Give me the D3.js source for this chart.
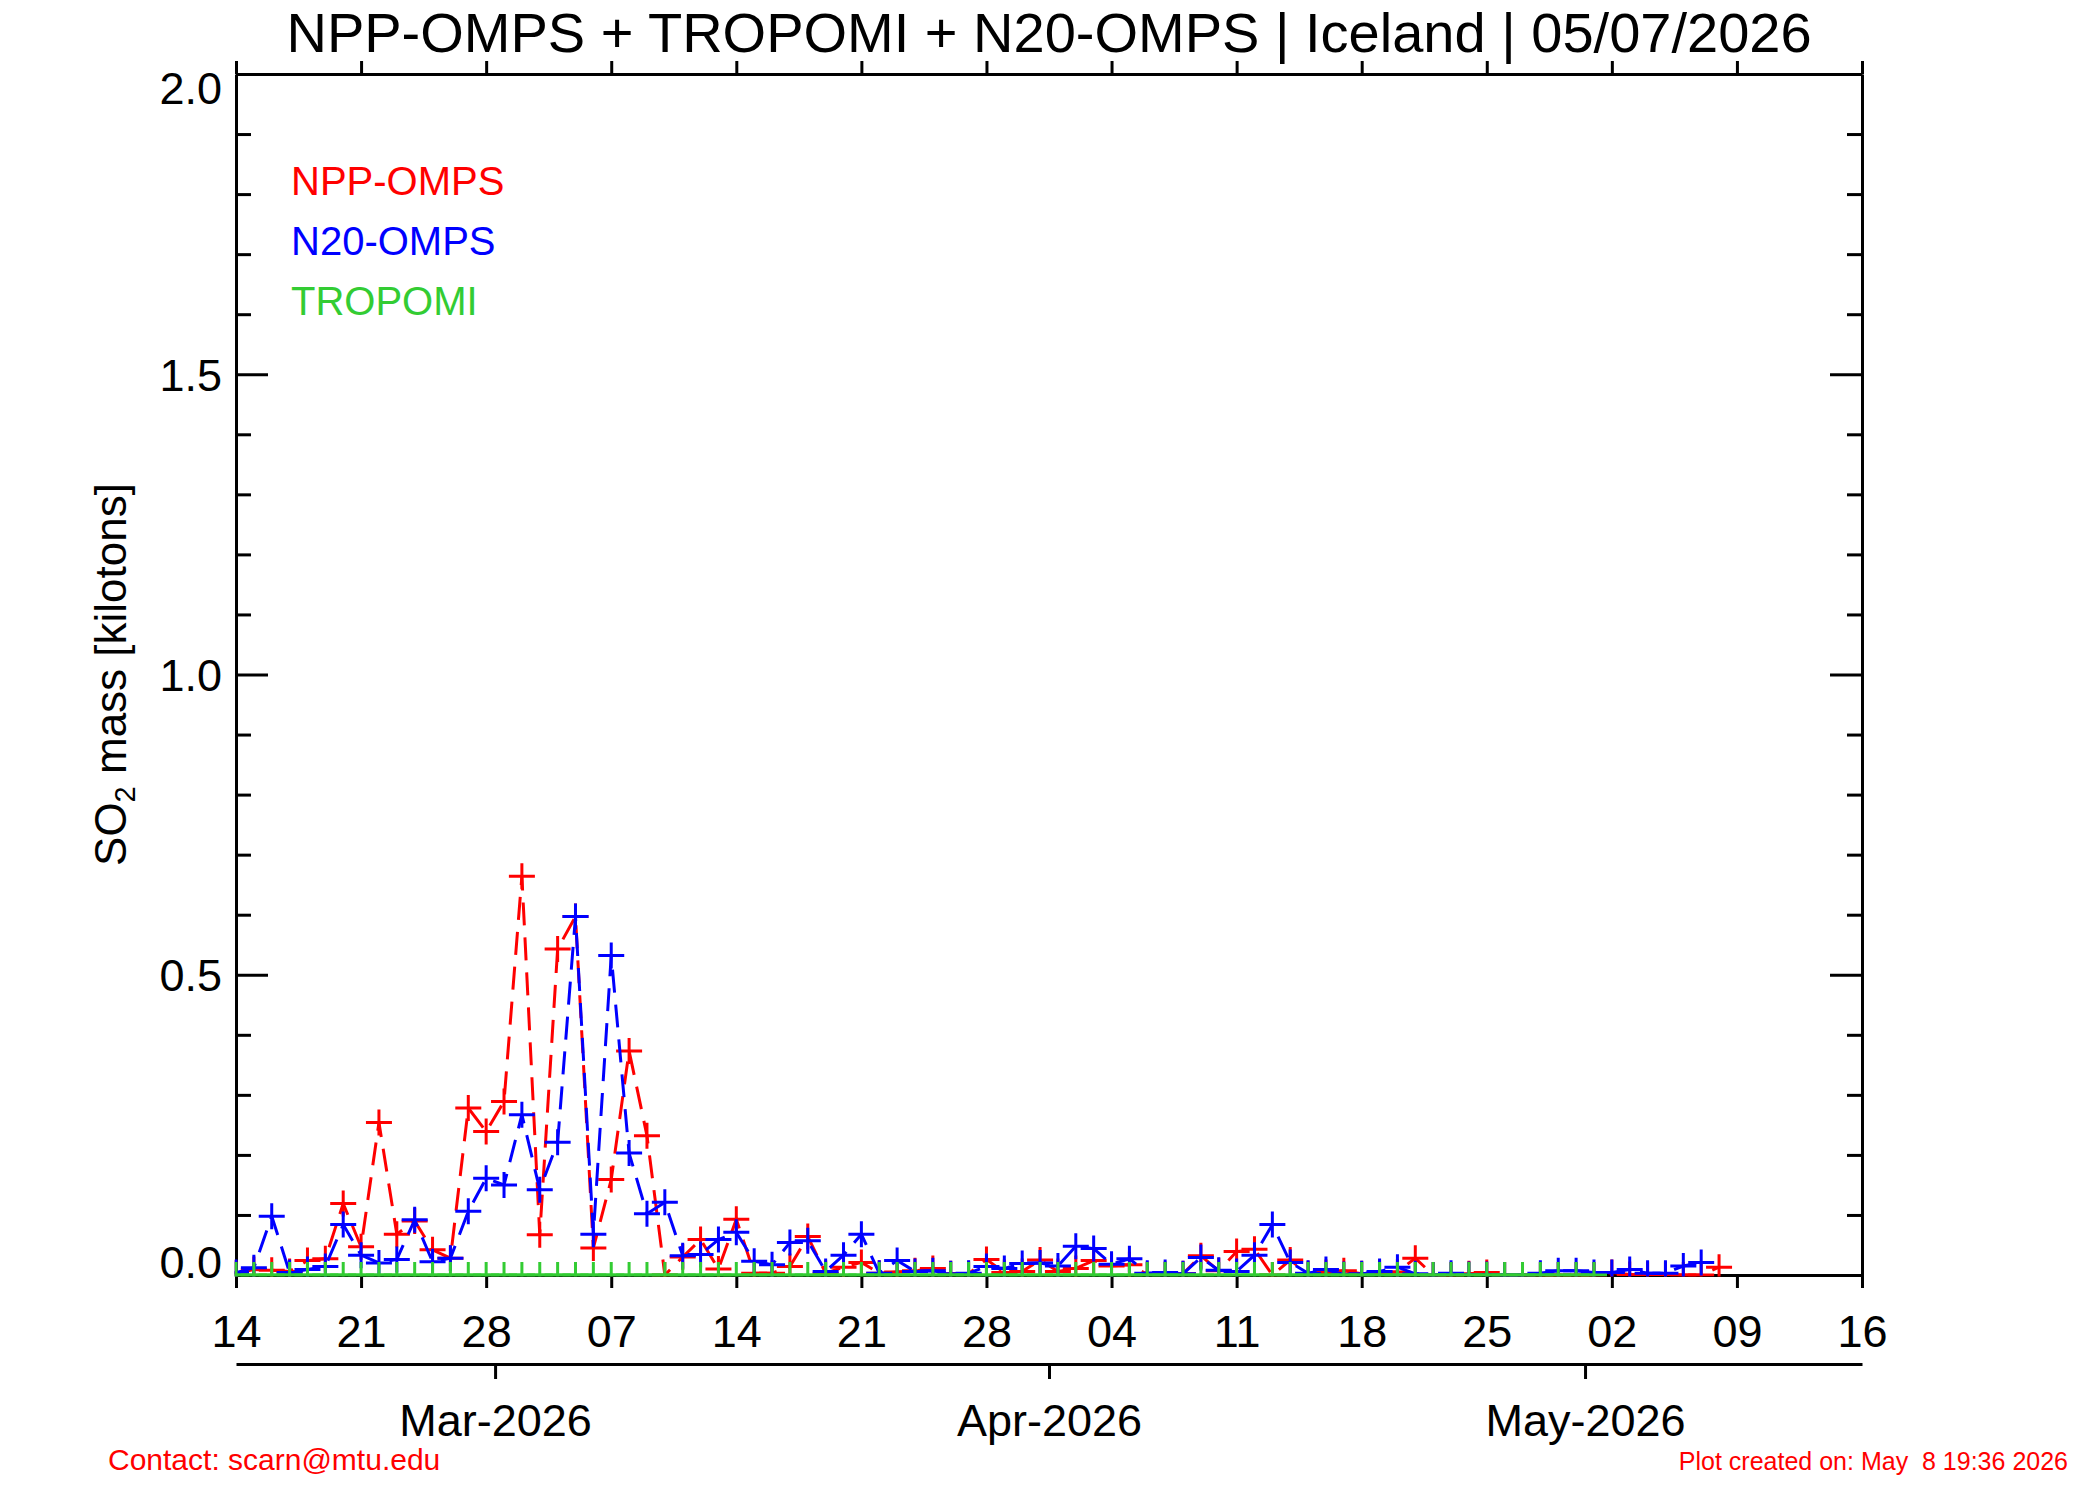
<!DOCTYPE html>
<html>
<head>
<meta charset="utf-8">
<script src="https://cdn.jsdelivr.net/npm/d3@7"></script>
<style>
  body { margin: 0; background: #fff; }
  svg { display: block; font-family: "Liberation Sans", Arial, Helvetica, sans-serif; }
  .axis path, .axis line { stroke: #000; stroke-width: 3; }
  .axis text { fill: #000; font-size: 45px; font-family: "Liberation Sans", Arial, sans-serif; }
</style>
</head>
<body>
<div id="chart"></div>
<script>
// --- data: one value per day, starting at startDay ---
const startDay = "2026-02-14";
const endDay = "2026-05-16";

const nppOmps = [
  0.003, 0.009, 0.008, 0.006, 0.024, 0.027, 0.119, 0.047, 0.254, 0.068,
  0.090, 0.042, 0.028, 0.278, 0.239, 0.289, 0.664, 0.067, 0.543, 0.597,
  0.045, 0.159, 0.373, 0.232, 0.000, 0.030, 0.059, 0.010, 0.093, 0.003,
  0.003, 0.014, 0.064, 0.003, 0.013, 0.021, 0.003, 0.005, 0.007, 0.011,
  0.002, 0.002, 0.026, 0.004, 0.006, 0.025, 0.006, 0.011, 0.024, 0.015,
  0.017, 0.001, 0.001, 0.002, 0.032, 0.007, 0.039, 0.043, 0.000, 0.025,
  0.002, 0.004, 0.007, 0.002, 0.004, 0.005, 0.028, 0.000, 0.000, 0.002,
  0.004, 0.000, 0.000, 0.000, 0.000, 0.000, 0.000, 0.004, 0.001, 0.001,
  0.001, 0.000, 0.000, 0.013
];

const n20Omps = [
  0.004, 0.012, 0.098, 0.004, 0.009, 0.014, 0.084, 0.033, 0.020, 0.026,
  0.092, 0.022, 0.028, 0.106, 0.161, 0.150, 0.267, 0.142, 0.221, 0.597,
  0.068, 0.532, 0.203, 0.102, 0.121, 0.032, 0.034, 0.059, 0.071, 0.023,
  0.017, 0.054, 0.057, 0.006, 0.033, 0.068, 0.003, 0.024, 0.006, 0.007,
  0.002, 0.003, 0.014, 0.011, 0.019, 0.020, 0.015, 0.048, 0.044, 0.018,
  0.027, 0.003, 0.004, 0.002, 0.029, 0.008, 0.006, 0.033, 0.084, 0.021,
  0.003, 0.009, 0.001, 0.002, 0.006, 0.013, 0.002, 0.000, 0.003, 0.001,
  0.001, 0.000, 0.000, 0.003, 0.007, 0.007, 0.004, 0.004, 0.009, 0.003,
  0.003, 0.015, 0.021
];

const tropomi = [
  0, 0, 0, 0, 0, 0, 0, 0, 0, 0,
  0, 0, 0, 0, 0, 0, 0, 0, 0, 0,
  0, 0, 0, 0, 0, 0, 0, 0, 0, 0,
  0, 0, 0, 0, 0, 0, 0, 0, 0, 0,
  0, 0, 0, 0, 0, 0, 0, 0, 0, 0,
  0, 0, 0, 0, 0, 0, 0, 0, 0, 0,
  0, 0, 0, 0, 0, 0, 0, 0, 0, 0,
  0, 0, 0, 0, 0, 0, 0
];

const seriesNames = ["NPP-OMPS", "N20-OMPS", "TROPOMI"];
const seriesColors = ["#ff0000", "#0000ff", "#33cc33"];
const yMajorTicks = [0.0, 0.5, 1.0, 1.5, 2.0];
const yMinorTicks = [0.1, 0.2, 0.3, 0.4, 0.6, 0.7, 0.8, 0.9, 1.1, 1.2, 1.3, 1.4, 1.6, 1.7, 1.8, 1.9];

const titleText = "NPP-OMPS + TROPOMI + N20-OMPS | Iceland | 05/07/2026";
const contactText = "Contact: scarn@mtu.edu";
const createdText = "Plot created on: May  8 19:36 2026";

// --- layout ---
const width = 2100;
const height = 1500;
const plot = { left: 236, right: 1862, top: 74, bottom: 1275 };

const svg = d3.select("#chart")
    .append("svg")
    .attr("width", width)
    .attr("height", height);

svg.append("rect").attr("width", width).attr("height", height).attr("fill", "#fff");

const parseDay = d3.utcParse("%Y-%m-%d");
const t0 = parseDay(startDay);
const t1 = parseDay(endDay);

const x = d3.scaleUtc().domain([t0, t1]).range([plot.left, plot.right]);
// month axis is offset by half a day
const xMonth = d3.scaleUtc()
    .domain([d3.utcHour.offset(t0, 12), d3.utcHour.offset(t1, 12)])
    .range([plot.left, plot.right]);
const y = d3.scaleLinear().domain([0, 2]).range([plot.bottom, plot.top]);

const toPoints = vals => vals.map((v, i) => ({ date: d3.utcDay.offset(t0, i), value: v }));
const series = [toPoints(nppOmps), toPoints(n20Omps), toPoints(tropomi)];

const weekTicks = x.ticks(d3.utcSaturday);

// --- axes ---
svg.append("g").attr("class", "axis")
    .attr("transform", `translate(0,${plot.bottom})`)
    .call(d3.axisBottom(x).tickValues(weekTicks).tickFormat(d3.utcFormat("%d")).tickSize(13).tickSizeOuter(0))
    .call(g => g.selectAll("text").attr("y", 72).attr("dy", 0));

svg.append("g").attr("class", "axis")
    .attr("transform", `translate(0,${plot.top})`)
    .call(d3.axisTop(x).tickValues(weekTicks).tickFormat("").tickSize(13).tickSizeOuter(0));

svg.append("g").attr("class", "axis")
    .attr("transform", `translate(${plot.left},0)`)
    .call(d3.axisLeft(y).tickValues(yMajorTicks).tickFormat(d3.format(".1f")).tickSize(-32).tickPadding(14).tickSizeOuter(0))
    .call(g => g.selectAll("text").attr("dy", d => d === 0 ? 2 : (d === 2 ? 29 : 16)));

svg.append("g").attr("class", "axis")
    .attr("transform", `translate(${plot.left},0)`)
    .call(d3.axisLeft(y).tickValues(yMinorTicks).tickFormat("").tickSize(-15).tickSizeOuter(0))
    .call(g => g.select(".domain").remove());

svg.append("g").attr("class", "axis")
    .attr("transform", `translate(${plot.right},0)`)
    .call(d3.axisRight(y).tickValues(yMajorTicks).tickFormat("").tickSize(-32).tickSizeOuter(0));

svg.append("g").attr("class", "axis")
    .attr("transform", `translate(${plot.right},0)`)
    .call(d3.axisRight(y).tickValues(yMinorTicks).tickFormat("").tickSize(-15).tickSizeOuter(0))
    .call(g => g.select(".domain").remove());

// month axis below
svg.append("g").attr("class", "axis")
    .attr("transform", "translate(0,1364)")
    .call(d3.axisBottom(xMonth).ticks(d3.utcMonth).tickFormat(d3.utcFormat("%b-%Y")).tickSize(15).tickSizeOuter(0))
    .call(g => g.selectAll("text").attr("y", 72).attr("dy", 0));

// --- data ---
svg.append("clipPath").attr("id", "plot-clip")
    .append("rect")
    .attr("x", plot.left - 1.5)
    .attr("y", plot.top - 1.5)
    .attr("width", plot.right - plot.left + 3)
    .attr("height", plot.bottom - plot.top + 3);

const dataG = svg.append("g").attr("clip-path", "url(#plot-clip)");

const line = d3.line()
    .x(d => x(d.date))
    .y(d => y(d.value));

const plusPath = "M-13,0H13M0,-13V13";

series.forEach((pts, i) => {
    const g = dataG.append("g");
    g.append("path")
        .datum(pts)
        .attr("d", line)
        .attr("fill", "none")
        .attr("stroke", seriesColors[i])
        .attr("stroke-width", 3)
        .attr("stroke-dasharray", i < 2 ? "23,12" : null);

    g.selectAll(".mark")
        .data(pts)
        .enter().append("path")
        .attr("class", "mark")
        .attr("transform", d => `translate(${x(d.date)},${y(d.value)})`)
        .attr("d", plusPath)
        .attr("fill", "none")
        .attr("stroke", seriesColors[i])
        .attr("stroke-width", 3);
});

// --- legend ---
const legendOrder = [0, 1, 2];
legendOrder.forEach((k, j) => {
    svg.append("text")
        .attr("x", 291)
        .attr("y", 195 + j * 60)
        .attr("fill", seriesColors[k])
        .style("font-size", "40px")
        .text(seriesNames[k]);
});

// --- texts ---
svg.append("text")
    .attr("x", (plot.left + plot.right) / 2)
    .attr("y", 52)
    .attr("text-anchor", "middle")
    .style("font-size", "56px")
    .text(titleText);

const yTitle = svg.append("text")
    .attr("transform", `translate(126,${(plot.top + plot.bottom) / 2}) rotate(-90)`)
    .attr("text-anchor", "middle")
    .style("font-size", "44px");
yTitle.append("tspan").text("SO");
yTitle.append("tspan").attr("dy", 9).style("font-size", "29px").text("2");
yTitle.append("tspan").attr("dy", -9).text(" mass [kilotons]");

svg.append("text")
    .attr("x", 108)
    .attr("y", 1470)
    .attr("fill", "#ff0000")
    .style("font-size", "30px")
    .text(contactText);

svg.append("text")
    .attr("x", 2068)
    .attr("y", 1470)
    .attr("text-anchor", "end")
    .attr("fill", "#ff0000")
    .style("font-size", "25px")
    .style("white-space", "pre")
    .text(createdText);
</script>
</body>
</html>
